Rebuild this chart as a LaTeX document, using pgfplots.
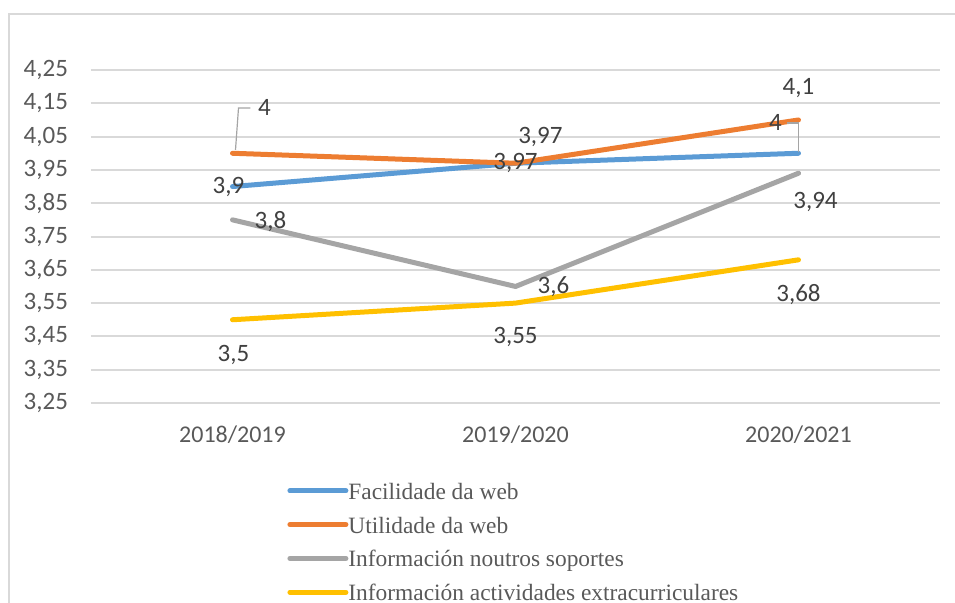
\documentclass[border=0pt]{standalone}
\usepackage{fontspec}
\setmainfont{Liberation Serif}
\newfontfamily\carlito{Carlito}
\usepackage{pgfplots}
\pgfplotsset{compat=1.18}
\definecolor{cblue}{HTML}{5B9BD5}
\definecolor{corange}{HTML}{ED7D31}
\definecolor{cgray}{HTML}{A5A5A5}
\definecolor{cyellow}{HTML}{FFC000}
\definecolor{gridgray}{HTML}{D9D9D9}
\definecolor{tickgray}{HTML}{595959}
\definecolor{lblgray}{HTML}{404040}
\tikzset{
  lbl/.style={font=\carlito\fontsize{12.5}{14}\selectfont, text=lblgray, inner sep=0pt},
  leader/.style={draw=cgray, line width=0.6pt},
}
\begin{document}
\begin{tikzpicture}
\path[use as bounding box] (-45.5pt,-99.5pt) rectangle (432pt,201.5pt);
\clip (-45.5pt,-99.5pt) rectangle (432pt,201.5pt);
\draw[line width=1pt, color=gridgray] (-41pt,-130pt) rectangle (470pt,194.5pt);
\begin{axis}[
  at={(0,0)}, anchor=south west,
  scale only axis, width=424.5pt, height=166.5pt,
  xmin=-0.5, xmax=2.5, ymin=3.25, ymax=4.25,
  clip=false,
  axis line style={draw=none},
  tick style={draw=none},
  major tick length=0pt,
  ytick={3.25,3.35,3.45,3.55,3.65,3.75,3.85,3.95,4.05,4.15,4.25},
  ymajorgrids, grid style={line width=1pt, color=gridgray},
  xtick={0,1,2},
  xticklabels={2018/2019,2019/2020,2020/2021},
  yticklabel style={font=\carlito\fontsize{12.5}{14}\selectfont, text=tickgray, xshift=-8pt,
    /pgf/number format/fixed, /pgf/number format/fixed zerofill,
    /pgf/number format/precision=2, /pgf/number format/use comma,
    /pgf/number format/assume math mode=true},
  xticklabel style={font=\carlito\fontsize{12}{14}\selectfont, text=tickgray, yshift=-8pt},
  legend style={at={(axis description cs:0.2309,-0.228)}, anchor=north west,
    draw=none, fill=none, inner sep=0pt, row sep=5.4pt,
    font=\fontsize{11.7}{13}\selectfont, text=tickgray,
    nodes={inner xsep=0pt, inner ysep=0pt},
    cells={anchor=west, text height=10pt, text depth=3pt}},
  legend image code/.code={\draw[#1, line cap=round] (0pt,0pt) -- (28pt,0pt);},
  every axis plot/.append style={line width=2.5pt, line cap=round, line join=round},
]
\addplot[cblue, no marks] coordinates {(0,3.9) (1,3.97) (2,4.0)};
\addlegendentry{Facilidade da web}
\addplot[corange, no marks] coordinates {(0,4.0) (1,3.97) (2,4.1)};
\addlegendentry{Utilidade da web}
\addplot[cgray, no marks] coordinates {(0,3.8) (1,3.6) (2,3.94)};
\addlegendentry{Información noutros soportes}
\addplot[cyellow, no marks] coordinates {(0,3.5) (1,3.55) (2,3.68)};
\addlegendentry{Información actividades extracurriculares}

% data labels
\draw[leader] (axis cs:0.0106,4.010) -- (axis cs:0.0212,4.136) -- (axis cs:0.0636,4.136);
\node[lbl] at (axis cs:0.113,4.136) {4};
\node[lbl] at (axis cs:-0.014,3.899) {3,9};
\node[lbl] at (axis cs:1.088,4.049) {3,97};
\node[lbl] at (axis cs:1.0,3.971) {3,97};
\node[lbl] at (axis cs:2.0,4.196) {4,1};
\draw[leader] (axis cs:2.0,4.003) -- (axis cs:2.0,4.091) -- (axis cs:1.958,4.091);
\node[lbl] at (axis cs:1.919,4.091) {4};
\node[lbl] at (axis cs:0.134,3.794) {3,8};
\node[lbl] at (axis cs:1.134,3.598) {3,6};
\node[lbl] at (axis cs:2.06,3.854) {3,94};
\node[lbl] at (axis cs:0.0035,3.394) {3,5};
\node[lbl] at (axis cs:1.0,3.448) {3,55};
\node[lbl] at (axis cs:2.0,3.577) {3,68};
\end{axis}
\end{tikzpicture}
\end{document}
